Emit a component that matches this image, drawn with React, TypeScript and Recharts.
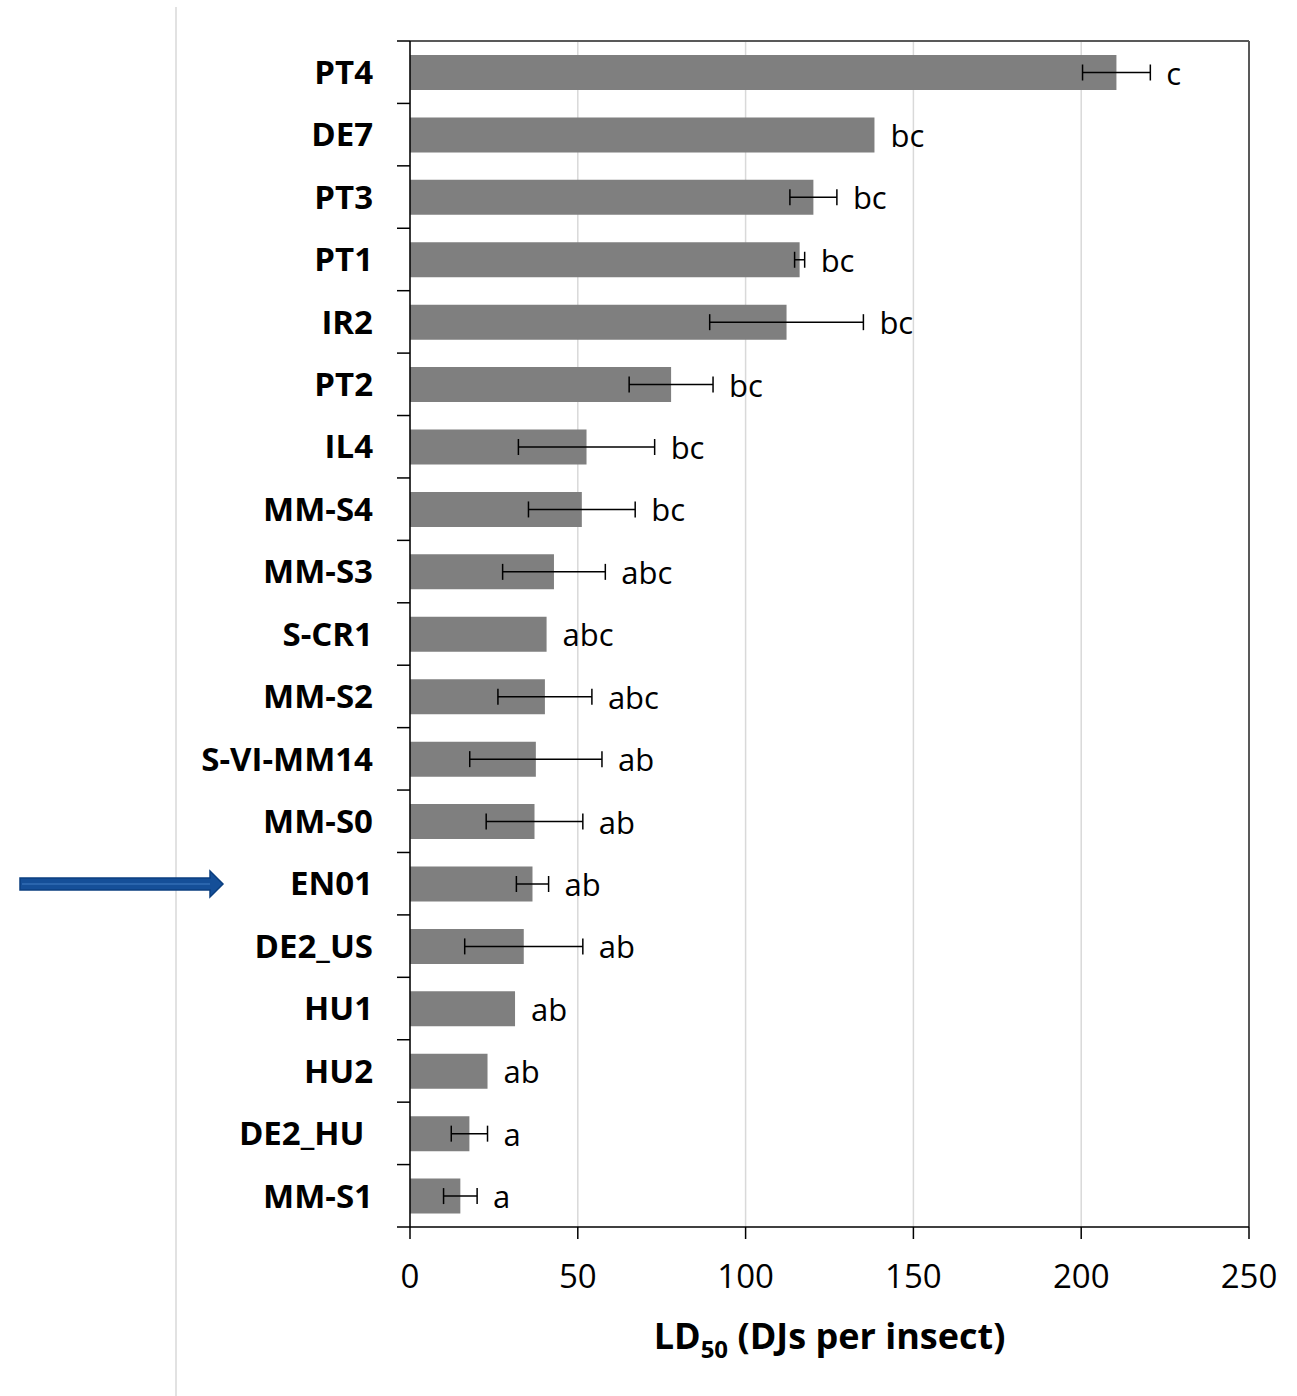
import {
  BarChart,
  Bar,
  XAxis,
  YAxis,
  CartesianGrid,
  ErrorBar,
  LabelList,
  ReferenceLine,
} from 'recharts';

// LD50 per strain, top to bottom
const strains = [
  'PT4', 'DE7', 'PT3', 'PT1', 'IR2', 'PT2', 'IL4', 'MM-S4', 'MM-S3', 'S-CR1',
  'MM-S2', 'S-VI-MM14', 'MM-S0', 'EN01', 'DE2_US', 'HU1', 'HU2', 'DE2_HU\u00a0', 'MM-S1',
];
const ld50 = [
  210.5, 138.4, 120.2, 116.1, 112.2, 77.8, 52.6, 51.2, 42.9, 40.7,
  40.2, 37.5, 37.1, 36.5, 33.9, 31.3, 23.1, 17.7, 15.0,
];
const ld50Err = [
  10.1, null, 7.0, 1.5, 22.9, 12.5, 20.3, 15.9, 15.3, null,
  14.0, 19.7, 14.4, 4.8, 17.6, null, null, 5.4, 5.0,
];
const groups = [
  'c', 'bc', 'bc', 'bc', 'bc', 'bc', 'bc', 'bc', 'abc', 'abc',
  'abc', 'ab', 'ab', 'ab', 'ab', 'ab', 'ab', 'a', 'a',
];
const xTicks = [0, 50, 100, 150, 200, 250];

const data = strains.map((name, i) => ({
  name,
  ld50: ld50[i],
  err: ld50Err[i],
  group: groups[i],
}));

const FONT = '"Open Sans", "DejaVu Sans", sans-serif';
const LABEL_GAP = 37;

// strain name, plus an Excel-style tick mark on the band edges
const StrainTick = (props: any) => {
  const { x, y, payload, index } = props;
  const half = payload?.offset ?? 0;
  const axisX = x + LABEL_GAP;
  const last = index === strains.length - 1;
  return (
    <g>
      <line x1={axisX - 13} x2={axisX} y1={y - half} y2={y - half} stroke="#000" strokeWidth={1.5} />
      {last && (
        <line x1={axisX - 13} x2={axisX} y1={y + half} y2={y + half} stroke="#000" strokeWidth={1.5} />
      )}
      <text
        x={x}
        y={y}
        dy="0.355em"
        textAnchor="end"
        fontSize={33}
        fontWeight="bold"
        fill="#000"
        fontFamily={FONT}
      >
        {payload.value}
      </text>
    </g>
  );
};

// significance letter sits just past the bar or its error bar
const GroupLabel = (props: any) => {
  const vb = props.viewBox ?? props;
  const x = vb.x ?? props.x;
  const y = vb.y ?? props.y;
  const width = vb.width ?? props.width;
  const height = vb.height ?? props.height;
  const i = props.index;
  const v = ld50[i];
  const reach = v + (ld50Err[i] ?? 0);
  const endX = x + (width * reach) / v;
  return (
    <text x={endX + 16} y={y + height / 2 + 12} fontSize={31} fill="#000" fontFamily={FONT}>
      {props.value}
    </text>
  );
};

const AxisTitle = (props: any) => {
  const vb = props.viewBox;
  return (
    <text
      x={vb.x + vb.width / 2}
      y={vb.y + 122}
      textAnchor="middle"
      fontSize={36}
      fontWeight="bold"
      fill="#000"
      fontFamily={FONT}
    >
      LD
      <tspan fontSize={24} dy={9}>50</tspan>
      <tspan dy={-9}> (DJs per insect)</tspan>
    </text>
  );
};

export default function App() {
  return (
    <div
      style={{
        position: 'absolute',
        top: 0,
        left: 0,
        width: 1297,
        height: 1396,
        background: '#fff',
        fontFamily: FONT,
      }}
    >
      <svg
        width={1297}
        height={1396}
        style={{ position: 'absolute', top: 0, left: 0 }}
      >
        <line x1={176} y1={7} x2={176} y2={1396} stroke="#d9d9d9" strokeWidth={1.5} />
        <polygon
          points="20,878 210,878 210,871 223,884 210,897 210,890 20,890"
          fill="#154f98"
          stroke="#0b3f80"
          strokeWidth={1.5}
        />
        <line x1={22} y1={884} x2={210} y2={884} stroke="#2a65ad" strokeWidth={2} />
      </svg>
      <div style={{ position: 'absolute', top: 0, left: 0 }}>
        <BarChart
          width={1297}
          height={1396}
          data={data}
          layout="vertical"
          margin={{ top: 41, right: 48, bottom: 29, left: 210 }}
        >
          <CartesianGrid horizontal={false} stroke="#d9d9d9" strokeWidth={1.5} />
          <XAxis
            type="number"
            domain={[0, 250]}
            ticks={xTicks}
            interval={0}
            height={140}
            tickSize={12}
            tickMargin={26}
            axisLine={{ stroke: '#000', strokeWidth: 1.5 }}
            tickLine={{ stroke: '#000', strokeWidth: 1.5 }}
            tick={{ fill: '#000', fontSize: 33, fontFamily: FONT }}
            label={{ content: AxisTitle }}
          />
          <YAxis
            type="category"
            dataKey="name"
            width={200}
            interval={0}
            tickSize={0}
            tickMargin={LABEL_GAP}
            axisLine={{ stroke: '#000', strokeWidth: 1.5 }}
            tickLine={false}
            tick={StrainTick}
          />
          <Bar dataKey="ld50" fill="#7f7f7f" barSize={35} isAnimationActive={false}>
            <ErrorBar dataKey="err" direction="x" width={8} stroke="#000" strokeWidth={1.5} />
            <LabelList dataKey="group" content={GroupLabel} />
          </Bar>
          <ReferenceLine x={250} stroke="#595959" strokeWidth={2} />
          <ReferenceLine y={strains[0]} position="start" stroke="#595959" strokeWidth={2} />
        </BarChart>
      </div>
    </div>
  );
}
